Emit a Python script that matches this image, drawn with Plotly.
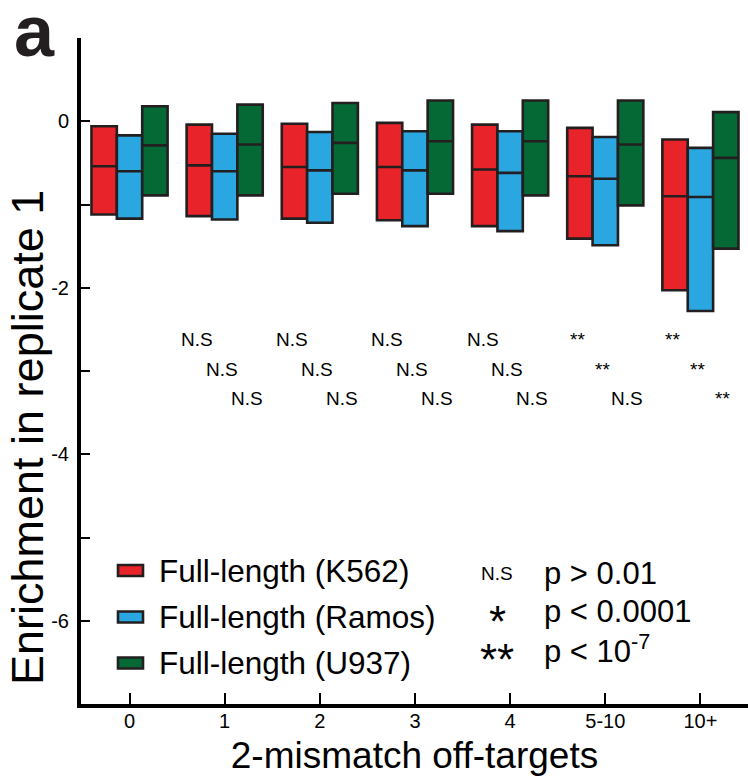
import plotly.graph_objects as go

# ---------------- data ----------------
categories = ["0", "1", "2", "3", "4", "5-10", "10+"]
series_names = ["Full-length (K562)", "Full-length (Ramos)", "Full-length (U937)"]

k562_q3 = [-0.06, -0.04, -0.03, -0.02, -0.04, -0.08, -0.22]
k562_med = [-0.54, -0.53, -0.55, -0.55, -0.58, -0.66, -0.90]
k562_q1 = [-1.12, -1.14, -1.17, -1.19, -1.26, -1.41, -2.03]

ramos_q3 = [-0.17, -0.15, -0.13, -0.12, -0.12, -0.19, -0.32]
ramos_med = [-0.60, -0.60, -0.59, -0.59, -0.62, -0.69, -0.91]
ramos_q1 = [-1.17, -1.18, -1.22, -1.26, -1.32, -1.49, -2.28]

u937_q3 = [0.18, 0.20, 0.22, 0.25, 0.25, 0.25, 0.11]
u937_med = [-0.29, -0.28, -0.26, -0.24, -0.24, -0.28, -0.44]
u937_q1 = [-0.89, -0.89, -0.87, -0.87, -0.89, -1.01, -1.53]

# significance vs. category "0" for categories 1..10+
sig_k562 = ["N.S", "N.S", "N.S", "N.S", "**", "**"]
sig_ramos = ["N.S", "N.S", "N.S", "N.S", "**", "**"]
sig_u937 = ["N.S", "N.S", "N.S", "N.S", "N.S", "**"]

y_tick_vals = [0, -2, -4, -6]
y_tick_text = ["0", "-2", "-4", "-6"]

p_keys = ["N.S", "*", "**"]
p_texts = ["p &gt; 0.01", "p &lt; 0.0001", "p &lt; 10<sup>-7</sup>"]

# ---------------- style ----------------
colors = ["#e8232a", "#2aa7e0", "#056936"]
edge = "#231f20"
FONT = "Liberation Sans, Arial, Helvetica, sans-serif"

W, H = 748, 781
PL, PT, PR, PB = 81, 38, 0, 77
PW, PH = W - PL - PR, H - PT - PB


def px(xp):
    return (xp - PL) / PW


def py(yp):
    return (PT + PH - yp) / PH


fig = go.Figure()
stats = [(k562_q1, k562_med, k562_q3), (ramos_q1, ramos_med, ramos_q3), (u937_q1, u937_med, u937_q3)]
for name, col, (q1, med, q3) in zip(series_names, colors, stats):
    fig.add_trace(go.Box(
        x=categories, q1=q1, median=med, q3=q3,
        lowerfence=q1, upperfence=q3,
        name=name, fillcolor=col,
        line=dict(color=edge, width=2.6),
        whiskerwidth=0, boxpoints=False,
    ))

annotations = []
# significance labels
row_y = [-2.62, -2.98, -3.33]
row_dx = [-0.29, -0.03, 0.23]
for r, sig in enumerate([sig_k562, sig_ramos, sig_u937]):
    for i, s in enumerate(sig):
        annotations.append(dict(
            x=i + 1 + row_dx[r], y=row_y[r], xref="x", yref="y", text=s,
            showarrow=False, xanchor="center", yanchor="middle",
            font=dict(family=FONT, size=19, color="black")))

# y axis title
annotations.append(dict(
    x=px(27), y=py(438), xref="paper", yref="paper", text="Enrichment in replicate 1",
    textangle=-90, showarrow=False, xanchor="center", yanchor="middle",
    font=dict(family=FONT, size=45, color="black")))

# panel label
annotations.append(dict(
    x=px(34), y=py(31), xref="paper", yref="paper", text="<b>a</b>",
    showarrow=False, xanchor="center", yanchor="middle",
    font=dict(family=FONT, size=72, color="#231f20")))

shapes = []
# manual legend
leg_y = [570.5, 617, 663]
for name, col, ly in zip(series_names, colors, leg_y):
    shapes.append(dict(type="rect", xref="paper", yref="paper",
                       x0=px(118), x1=px(143), y0=py(ly - 5.5), y1=py(ly + 5.5),
                       fillcolor=col, line=dict(color=edge, width=2.6)))
    annotations.append(dict(
        x=px(157), y=py(ly), xref="paper", yref="paper", text=name,
        showarrow=False, xanchor="left", yanchor="middle",
        font=dict(family=FONT, size=31.5, color="black")))

# p-value key
p_y = [573, 611, 649]
key_sizes = [19, 44, 44]
key_shift = [0, 10, 10]
for k, t, yy, ks, sh in zip(p_keys, p_texts, p_y, key_sizes, key_shift):
    annotations.append(dict(
        x=px(497), y=py(yy + sh), xref="paper", yref="paper", text=k,
        showarrow=False, xanchor="center", yanchor="middle",
        font=dict(family=FONT, size=ks, color="black")))
    annotations.append(dict(
        x=px(542), y=py(yy), xref="paper", yref="paper", text=t,
        showarrow=False, xanchor="left", yanchor="middle",
        font=dict(family=FONT, size=31, color="black")))

fig.update_layout(
    width=W, height=H,
    margin=dict(l=PL, r=PR, t=PT, b=PB, pad=0),
    plot_bgcolor="white", paper_bgcolor="white",
    boxmode="group", boxgap=0.2, boxgroupgap=0,
    showlegend=False,
    font=dict(family=FONT, color="black"),
    annotations=annotations, shapes=shapes,
    xaxis=dict(
        type="category", categoryorder="array", categoryarray=categories,
        range=[-0.51, 6.5], showline=True, linewidth=4, linecolor="black",
        ticks="inside", ticklen=11, tickwidth=2, tickcolor="black",
        tickfont=dict(family=FONT, size=20, color="black"),
        ticklabelstandoff=-4,
        showgrid=False, zeroline=False,
        title=dict(text="2-mismatch off-targets", font=dict(family=FONT, size=37, color="black"), standoff=12),
    ),
    yaxis=dict(
        range=[-7, 1], showline=True, linewidth=4, linecolor="black",
        tickmode="array", tickvals=y_tick_vals, ticktext=y_tick_text,
        ticks="inside", ticklen=9, tickwidth=2, tickcolor="black",
        minor=dict(tickmode="linear", tick0=0, dtick=1, ticks="inside",
                   ticklen=9, tickwidth=2, tickcolor="black", showgrid=False),
        tickfont=dict(family=FONT, size=20, color="black"),
        ticklabelstandoff=4,
        showgrid=False, zeroline=False,
    ),
)

fig.write_html("out.html")
